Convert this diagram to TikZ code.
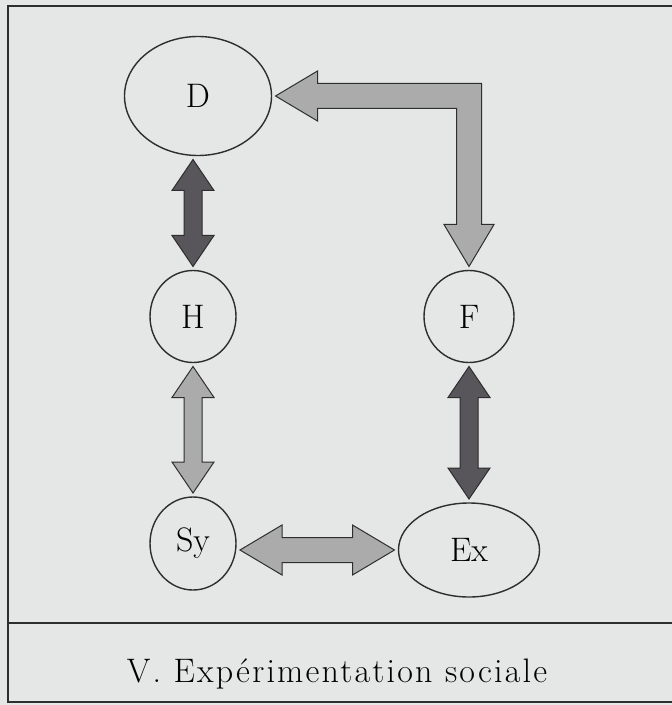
\documentclass[tikz,border=0pt]{standalone}
\usepackage{fontspec}
\newfontfamily\capfont{Latin Modern Roman}[LetterSpace=6.5]
\usepackage{tikz}
\usetikzlibrary{calc,shapes.geometric}
\definecolor{paperGrey}{HTML}{E4E7E5}
\definecolor{arrLight}{HTML}{ABABAB}
\definecolor{arrDark}{HTML}{58565A}
\definecolor{inkGrey}{HTML}{2E2E2E}
\tikzset{
  ring/.style={draw=inkGrey,ellipse,inner sep=0pt,outer sep=2pt,line width=0.7pt,
    fill=paperGrey,font=\fontsize{17}{17}\selectfont},
  arrshaft/.store in=\arrshaft,
  arrhead/.store in=\arrhead,
  arrtip/.store in=\arrtip,
  fatarrow/.style={draw=inkGrey,line width=0.5pt,line join=miter},
  slimfat/.style={fatarrow,arrshaft=4.5pt,arrhead=10.5pt,arrtip=15.5pt},
  widefat/.style={fatarrow,arrshaft=6.25pt,arrhead=12.5pt,arrtip=21pt},
  darkfill/.style={fill=arrDark},
  lightfill/.style={fill=arrLight},
}
% fat double-headed arrow from #2 to #3
\newcommand{\bothways}[3][]{%
  \path let \p1=(#2), \p2=(#3) in \pgfextra{%
    \pgfmathsetmacro\fatlen{veclen(\x2-\x1,\y2-\y1)}%
    \pgfmathsetmacro\fatang{atan2(\y2-\y1,\x2-\x1)}%
    \xdef\fatlen{\fatlen}\xdef\fatang{\fatang}};
  \draw[#1,shift={(#2)},rotate=\fatang]
    (0,0) -- (\arrtip,\arrhead) -- (\arrtip,\arrshaft)
    -- (\fatlen pt-\arrtip,\arrshaft) -- (\fatlen pt-\arrtip,\arrhead)
    -- (\fatlen pt,0) -- (\fatlen pt-\arrtip,-\arrhead) -- (\fatlen pt-\arrtip,-\arrshaft)
    -- (\arrtip,-\arrshaft) -- (\arrtip,-\arrhead) -- cycle;
}

\begin{document}
\begin{tikzpicture}
\fill[paperGrey] (0,0) rectangle (336pt,-352.5pt);
\useasboundingbox (0,0) rectangle (336pt,-352.5pt);
% frame
\draw[inkGrey,line width=1pt] (336pt,-3pt) -- (4pt,-3pt) -- (4pt,-351pt) -- (336pt,-351pt);
\draw[inkGrey,line width=1.3pt] (4pt,-311.5pt) -- (336pt,-311.5pt);
% nodes
\node[ring,minimum width=73.5pt,minimum height=59.5pt] (D) at (99pt,-48pt) {D};
\node[ring,minimum width=43pt,minimum height=46pt] (H) at (96.5pt,-158.25pt) {H};
\node[ring,minimum width=45pt,minimum height=46pt] (F) at (234.5pt,-158.25pt) {F};
\node[ring,minimum width=43pt,minimum height=46.5pt] (Sy) at (96.5pt,-271.75pt) {Sy};
\node[ring,minimum width=70.5pt,minimum height=47pt] (Ex) at (234.5pt,-275pt) {Ex};
% arrows
\bothways[slimfat,darkfill]{H.north |- D.south}{H.north}
\bothways[slimfat,lightfill]{H.south}{Sy.north}
\bothways[slimfat,darkfill]{F.south}{Ex.north}
\bothways[widefat,lightfill]{Sy.east |- Ex.west}{Ex.west}
\draw[widefat,lightfill] let \p1=(D.east), \p2=(F.north) in
  (\p1) -- (\x1+\arrtip,\y1+\arrhead) -- (\x1+\arrtip,\y1+\arrshaft)
  -- (\x2+\arrshaft,\y1+\arrshaft) -- (\x2+\arrshaft,\y2+\arrtip)
  -- (\x2+\arrhead,\y2+\arrtip) -- (\p2) -- (\x2-\arrhead,\y2+\arrtip)
  -- (\x2-\arrshaft,\y2+\arrtip) -- (\x2-\arrshaft,\y1-\arrshaft)
  -- (\x1+\arrtip,\y1-\arrshaft) -- (\x1+\arrtip,\y1-\arrhead) -- cycle;
% caption
\node[font=\capfont\fontsize{17}{17}\selectfont] (cap) at (168.5pt,-337pt) {V. Expérimentation sociale};
\end{tikzpicture}
\end{document}
